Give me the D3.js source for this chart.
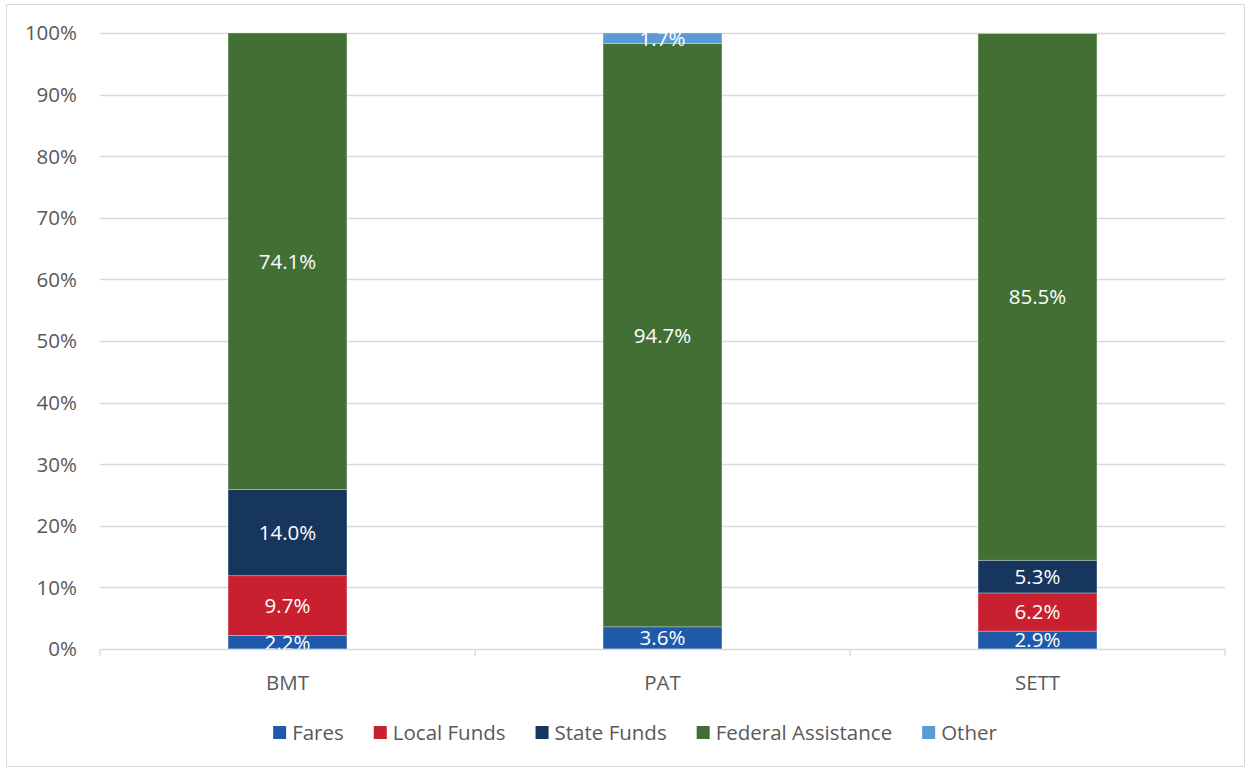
<!DOCTYPE html>
<html><head><meta charset="utf-8">
<script src="https://cdn.jsdelivr.net/npm/d3@7"></script>
<style>body{margin:0;background:#fff}svg{display:block}</style>
</head><body>
<svg id="c" width="1250" height="769"></svg>
<script>
const categories = ["BMT", "PAT", "SETT"];
const seriesNames = ["Fares", "Local Funds", "State Funds", "Federal Assistance", "Other"];
const fares = [2.2, 3.6, 2.9];
const localFunds = [9.7, 0, 6.2];
const stateFunds = [14.0, 0, 5.3];
const federal = [74.1, 94.7, 85.5];
const other = [0, 1.7, 0];
const yTicks = [0, 10, 20, 30, 40, 50, 60, 70, 80, 90, 100];
const colors = ["#1F5AAA", "#C9202F", "#17365D", "#427034", "#5B9BD5"];

const seriesVals = [fares, localFunds, stateFunds, federal, other];
const rows = categories.map((c, i) => {
  const r = {cat: c};
  seriesNames.forEach((s, j) => r[s] = seriesVals[j][i]);
  return r;
});
const stack = d3.stack().keys(seriesNames)(rows);

const svg = d3.select("#c");
const font = "'Open Sans', sans-serif";
const fs = 20.5;
svg.append("rect").attr("x", 6.5).attr("y", 4.5).attr("width", 1238).attr("height", 762)
  .attr("fill", "#fff").attr("stroke", "#d9d9d9").attr("stroke-width", 1);

const L = 100, R = 1225, T = 33, B = 649;
const x = d3.scaleBand().domain(categories).range([L, R]).paddingInner(0.683).paddingOuter(0.3415);
const y = d3.scaleLinear().domain([0, 100]).range([B, T]);

// gridlines
svg.append("g").selectAll("line").data(yTicks.filter(t => t > 0)).join("line")
  .attr("x1", L).attr("x2", R).attr("y1", d => Math.round(y(d)) + 0.5).attr("y2", d => Math.round(y(d)) + 0.5)
  .attr("stroke", "#d9d9d9").attr("stroke-width", 1.3);

// y labels
svg.append("g").selectAll("text").data(yTicks).join("text")
  .attr("x", 77).attr("y", d => y(d)).attr("dy", "0.36em").attr("text-anchor", "end")
  .attr("font-family", font).attr("font-size", fs).attr("fill", "#595959")
  .text(d => d + "%");

svg.append("defs").append("clipPath").attr("id", "pc").append("rect")
  .attr("x", L).attr("y", T - 2).attr("width", R - L).attr("height", B - T + 2);

// bars
const g = svg.append("g");
stack.forEach((layer, j) => {
  g.append("g").selectAll("rect").data(layer.filter(d => d[1] - d[0] > 0)).join("rect")
    .attr("x", d => x(d.data.cat)).attr("width", x.bandwidth())
    .attr("y", d => y(d[1])).attr("height", d => y(d[0]) - y(d[1]))
    .attr("fill", colors[j]).attr("stroke", "rgba(255,255,255,0.35)").attr("stroke-width", 0.8);
});

// labels
const lg = svg.append("g").attr("clip-path", "url(#pc)");
stack.forEach((layer, j) => {
  lg.append("g").selectAll("text").data(layer.filter(d => d[1] - d[0] > 0)).join("text")
    .attr("x", d => x(d.data.cat) + x.bandwidth() / 2)
    .attr("y", d => (y(d[0]) + y(d[1])) / 2).attr("dy", "0.36em")
    .attr("text-anchor", "middle").attr("font-family", font).attr("font-size", fs)
    .attr("fill", "#fff").text(d => (d[1] - d[0]).toFixed(1) + "%");
});

// x axis
const ax = svg.append("g");
ax.append("line").attr("x1", L).attr("x2", R).attr("y1", B + 0.5).attr("y2", B + 0.5)
  .attr("stroke", "#d9d9d9").attr("stroke-width", 1.3);
const edges = [L].concat(categories.map(c => x(c) + x.bandwidth() / 2 + x.step() / 2));
ax.selectAll("line.t").data(edges).join("line").attr("class", "t")
  .attr("x1", d => d).attr("x2", d => d).attr("y1", B).attr("y2", B + 7)
  .attr("stroke", "#d9d9d9").attr("stroke-width", 1.3);
ax.selectAll("text").data(categories).join("text")
  .attr("x", d => x(d) + x.bandwidth() / 2).attr("y", 683).attr("dy", "0.36em")
  .attr("text-anchor", "middle").attr("font-family", font).attr("font-size", fs).attr("fill", "#595959")
  .text(d => d);

// legend: laid out sequentially, then centred
const leg = svg.append("g");
let cx = 0;
seriesNames.forEach((s, j) => {
  leg.append("rect").attr("x", cx).attr("y", 726).attr("width", 13).attr("height", 13).attr("fill", colors[j]);
  const t = leg.append("text").attr("x", cx + 19).attr("y", 733).attr("dy", "0.36em")
    .attr("font-family", font).attr("font-size", fs).attr("fill", "#595959").text(s);
  cx += 19 + t.node().getComputedTextLength() + 30;
});
const total = cx - 30;
leg.attr("transform", `translate(${(272 + 998) / 2 - total / 2},0)`);
</script>
</body></html>
